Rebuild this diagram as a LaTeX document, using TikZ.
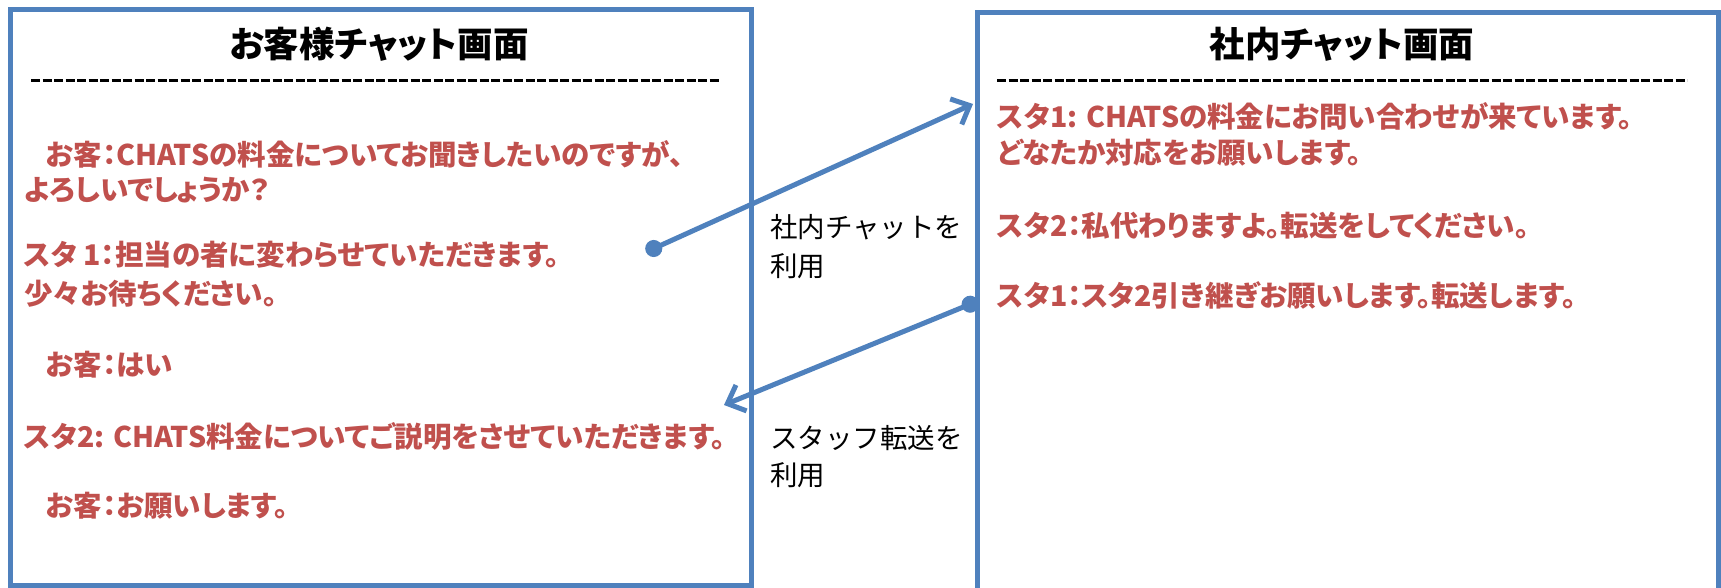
\documentclass[tikz,border=0pt]{standalone}
\usepackage{fontspec}
\usetikzlibrary{arrows.meta}
\newfontfamily\jpp[RawFeature=+palt]{Noto Sans CJK JP}
\newfontfamily\jpn{Noto Sans CJK JP}
\definecolor{boxblue}{HTML}{4F81BD}
\definecolor{msgred}{HTML}{C0504D}
\tikzset{
  panel/.style={draw=boxblue, line width=5pt, inner sep=0pt, outer sep=0pt},
  ttl/.style={inner sep=0pt, font=\jpp\bfseries\fontsize{35.5}{40}\selectfont},
  rule/.style={draw=black, line width=3pt, dash pattern=on 9pt off 2.5pt},
  msg/.style={anchor=west, inner sep=0pt, text=msgred, text height=24.5pt, text depth=3.5pt,
    font=\jpp\bfseries\fontsize{28.5}{32}\selectfont},
  lbl/.style={anchor=west, inner sep=0pt, text height=23pt, text depth=3.5pt,
    font=\jpn\fontsize{27.5}{30}\selectfont},
  conn/.style={draw=boxblue, line width=5pt, {Circle[length=17pt]}-{Straight Barb[length=15pt,width=28pt]}},
}
\begin{document}
\begin{tikzpicture}[x=1pt,y=-1pt]
\useasboundingbox (0,0) rectangle (1721,587);
\clip (0,0) rectangle (1721,587);
% panels
\node[panel, minimum width=741pt, minimum height=576pt] (left) at (380.5,297) {};
\node[panel, minimum width=741pt, minimum height=628pt] (right) at (1347.5,326) {};
% titles
\node[ttl] (ltitle) at (379,44) {お客様チャット画面};
\node[ttl] (rtitle) at (1342,44) {社内チャット画面};
% rules
\coordinate (lr1) at (31,80); \coordinate (lr2) at (719,80);
\coordinate (rr1) at (997,80); \coordinate (rr2) at (1687,80);
\draw[rule] (lr1) -- (lr2);
\draw[rule] (rr1) -- (rr2);
% left messages
\node[msg] (l1) at (46,155) {お客：CHATSの料金についてお聞きしたいのですが、};
\node[msg] (l2) at (24,190) {よろしいでしょうか？};
\node[msg] (l3) at (24,255) {スタ 1：担当の者に変わらせていただきます。};
\node[msg] (l4) at (24,294) {少々お待ちください。};
\node[msg] (l5) at (46,365) {お客：はい};
\node[msg] (l6) at (24,437) {スタ2: CHATS料金についてご説明をさせていただきます。};
\node[msg] (l7) at (46,506) {お客：お願いします。};
% right messages
\node[msg] (r1) at (997,117) {スタ1: CHATSの料金にお問い合わせが来ています。};
\node[msg] (r2) at (997,153) {どなたか対応をお願いします。};
\node[msg] (r3) at (997,226) {スタ2：私代わりますよ。転送をしてください。};
\node[msg] (r4) at (997,296) {スタ1：スタ2引き継ぎお願いします。転送します。};
% middle labels
\node[lbl] (m1) at (770,228) {社内チャットを};
\node[lbl] (m2) at (770,267) {利用};
\node[lbl] (m3) at (770,439) {スタッフ転送を};
\node[lbl] (m4) at (770,476) {利用};
% connectors
\coordinate (a1s) at (646,252); \coordinate (a1e) at (973,104);
\coordinate (a2s) at (978,301); \coordinate (a2e) at (724,405);
\draw[conn] (a1s) -- (a1e);
\draw[conn] (a2s) -- (a2e);
\end{tikzpicture}
\end{document}
